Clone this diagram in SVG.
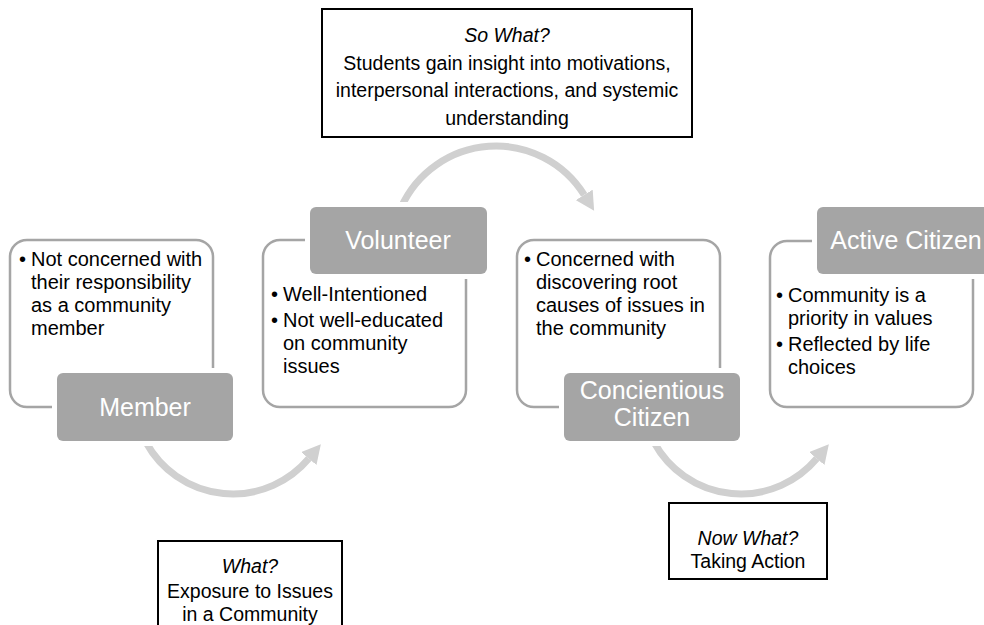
<svg xmlns="http://www.w3.org/2000/svg" width="984" height="625" viewBox="0 0 984 625">
<defs>
<style>
.card{fill:#fff;stroke:#a5a5a5;stroke-width:2.5}
.tab{fill:#a5a5a5;stroke:#fff;stroke-width:10;paint-order:stroke}
.tabt{font-family:"Liberation Sans",Arial,sans-serif;font-size:25px;fill:#fff;text-anchor:middle}
.body{font-family:"Liberation Sans",Arial,sans-serif;font-size:20px;fill:#000}
.note{fill:#fff;stroke:#000;stroke-width:2}
.nt{font-family:"Liberation Sans",Arial,sans-serif;font-size:19.5px;fill:#000;text-anchor:middle}
.it{font-style:italic}
.arc{fill:none;stroke:#d0d0d0;stroke-width:7}
</style>
<marker id="ah" markerUnits="userSpaceOnUse" markerWidth="20" markerHeight="20" refX="0" refY="8" orient="auto" viewBox="0 0 16 16">
<path d="M0,0 L15,8 L0,16 z" fill="#d0d0d0"/>
</marker>
</defs>
<g id="connectors">
<path class="arc" d="M146.4,443 A99,99 0 0 0 308.8,458.6" marker-end="url(#ah)"/>
<path class="arc" d="M401,207.7 A104,104 0 0 1 584.2,194.9" marker-end="url(#ah)"/>
<path class="arc" d="M654.4,443 A99,99 0 0 0 816.8,458.6" marker-end="url(#ah)"/>
</g>
<g id="so-what">
<rect class="note" x="322" y="9" width="370" height="128"/>
<text class="nt it" x="507" y="42">So What?</text>
<text class="nt" x="507" y="70">Students gain insight into motivations,</text>
<text class="nt" x="507" y="97">interpersonal interactions, and systemic</text>
<text class="nt" x="507" y="125">understanding</text>
</g>
<g id="what">
<rect class="note" x="158" y="541" width="184" height="100"/>
<text class="nt it" x="250" y="573">What?</text>
<text class="nt" x="250" y="598">Exposure to Issues</text>
<text class="nt" x="250" y="621">in a Community</text>
</g>
<g id="now-what">
<rect class="note" x="669" y="503" width="158" height="76"/>
<text class="nt it" x="748" y="545">Now What?</text>
<text class="nt" x="748" y="568">Taking Action</text>
</g>
<g id="member">
<rect class="card" x="10" y="240" width="203" height="167" rx="17"/>
<text class="body" x="19" y="266">•</text>
<text class="body" x="31" y="266">Not concerned with</text>
<text class="body" x="31" y="289">their responsibility</text>
<text class="body" x="31" y="312">as a community</text>
<text class="body" x="31" y="335">member</text>
<rect class="tab" x="57" y="373" width="176" height="68" rx="6"/>
<text class="tabt" x="145" y="416">Member</text>
</g>
<g id="volunteer">
<rect class="card" x="263" y="240" width="203" height="167" rx="17"/>
<text class="body" x="271" y="301">•</text>
<text class="body" x="283" y="301">Well-Intentioned</text>
<text class="body" x="271" y="327">•</text>
<text class="body" x="283" y="327">Not well-educated</text>
<text class="body" x="283" y="350">on community</text>
<text class="body" x="283" y="373">issues</text>
<rect class="tab" x="310" y="207" width="177" height="67" rx="6"/>
<text class="tabt" x="398" y="249">Volunteer</text>
</g>
<g id="concientious-citizen">
<rect class="card" x="517" y="240" width="203" height="167" rx="17"/>
<text class="body" x="524" y="266">•</text>
<text class="body" x="536" y="266">Concerned with</text>
<text class="body" x="536" y="289">discovering root</text>
<text class="body" x="536" y="312">causes of issues in</text>
<text class="body" x="536" y="335">the community</text>
<rect class="tab" x="564" y="373" width="176" height="68" rx="6"/>
<text class="tabt" x="652" y="399">Concientious</text>
<text class="tabt" x="652" y="426">Citizen</text>
</g>
<g id="active-citizen">
<rect class="card" x="770" y="241" width="203" height="166" rx="17"/>
<text class="body" x="776" y="302">•</text>
<text class="body" x="788" y="302">Community is a</text>
<text class="body" x="788" y="325">priority in values</text>
<text class="body" x="776" y="351">•</text>
<text class="body" x="788" y="351">Reflected by life</text>
<text class="body" x="788" y="374">choices</text>
<rect class="tab" x="817" y="207" width="178" height="67" rx="6"/>
<text class="tabt" x="906" y="249">Active Citizen</text>
</g>
</svg>
